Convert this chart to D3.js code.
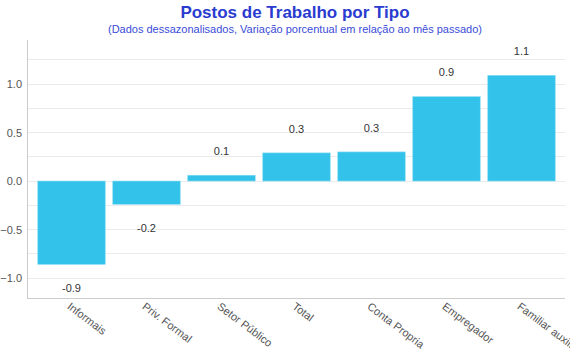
<!DOCTYPE html>
<html><head><meta charset="utf-8">
<script src="https://cdn.jsdelivr.net/npm/d3@7"></script>
<style>body{margin:0;background:#fff;}svg{display:block;font-family:"Liberation Sans",Arial,sans-serif;}</style>
</head><body>
<svg id="c" width="570" height="360"></svg>
<script>
const categories = ["Informais","Priv. Formal","Setor Público","Total","Conta Propria","Empregador","Familiar auxiliar"];
const values = [-0.86, -0.24, 0.06, 0.29, 0.30, 0.87, 1.09];
const valueLabels = ["-0.9","-0.2","0.1","0.3","0.3","0.9","1.1"];
const yTicks = [-1.0, -0.5, 0.0, 0.5, 1.0];
const yGrid = [-1.0,-0.75,-0.5,-0.25,0,0.25,0.5,0.75,1.0,1.25];

const svg = d3.select("#c");
const mLeft = 27, mRight = 565, mTop = 40, mBottom = 298;
const x = d3.scaleBand().domain(categories).range([34, 559]).paddingInner(0.1).paddingOuter(0.05);
const y = d3.scaleLinear().domain([-1.206, 1.454]).range([mBottom, mTop]);

svg.append("text").attr("x", 295).attr("y", 18).attr("text-anchor","middle")
  .attr("font-size", 17).attr("font-weight","bold").attr("fill","#2a3bd0").text("Postos de Trabalho por Tipo");
svg.append("text").attr("x", 295).attr("y", 33).attr("text-anchor","middle")
  .attr("font-size", 11).attr("fill","#3a4cd8").text("(Dados dessazonalisados, Variação porcentual em relação ao mês passado)");

svg.append("g").selectAll("line").data(yGrid).join("line")
  .attr("x1", mLeft).attr("x2", mRight).attr("y1", d=>y(d)).attr("y2", d=>y(d))
  .attr("stroke","#ebebeb").attr("stroke-width",1).attr("shape-rendering","crispEdges");

const yAxis = svg.append("g").attr("transform",`translate(${mLeft},0)`)
  .call(d3.axisLeft(y).tickValues(yTicks).tickFormat(d3.format(".1f")).tickSize(0).tickPadding(5));
yAxis.select(".domain").remove();
yAxis.selectAll("text").attr("font-size",11).attr("fill","#555").attr("font-family","Liberation Sans, Arial, sans-serif");

svg.append("line").attr("x1",mLeft).attr("x2",mLeft).attr("y1",mTop).attr("y2",mBottom)
  .attr("stroke","#ccc").attr("shape-rendering","crispEdges");
svg.append("line").attr("x1",mLeft).attr("x2",mRight).attr("y1",mBottom).attr("y2",mBottom)
  .attr("stroke","#ccc").attr("shape-rendering","crispEdges");

svg.append("g").selectAll("rect").data(values).join("rect")
  .attr("x",(d,i)=>x(categories[i])).attr("width",x.bandwidth())
  .attr("y",d=>y(Math.max(0,d))).attr("height",d=>Math.abs(y(d)-y(0)))
  .attr("fill","#33c3ea").attr("stroke","#8fdcf3").attr("stroke-width",0.6);

svg.append("g").selectAll("text").data(values).join("text")
  .attr("x",(d,i)=>x(categories[i])+x.bandwidth()/2)
  .attr("y",d=> d>=0 ? y(d)-24 : y(d)+24).attr("dy","0.35em")
  .attr("text-anchor","middle").attr("font-size",11).attr("fill","#333")
  .text((d,i)=>valueLabels[i]);

svg.append("g").selectAll("text").data(categories).join("text")
  .attr("transform",d=>`translate(${x(d)+x.bandwidth()/2-5},${mBottom+10}) rotate(37)`)
  .attr("text-anchor","start").attr("font-size",11).attr("fill","#555")
  .text(d=>d);
</script>
</body></html>
